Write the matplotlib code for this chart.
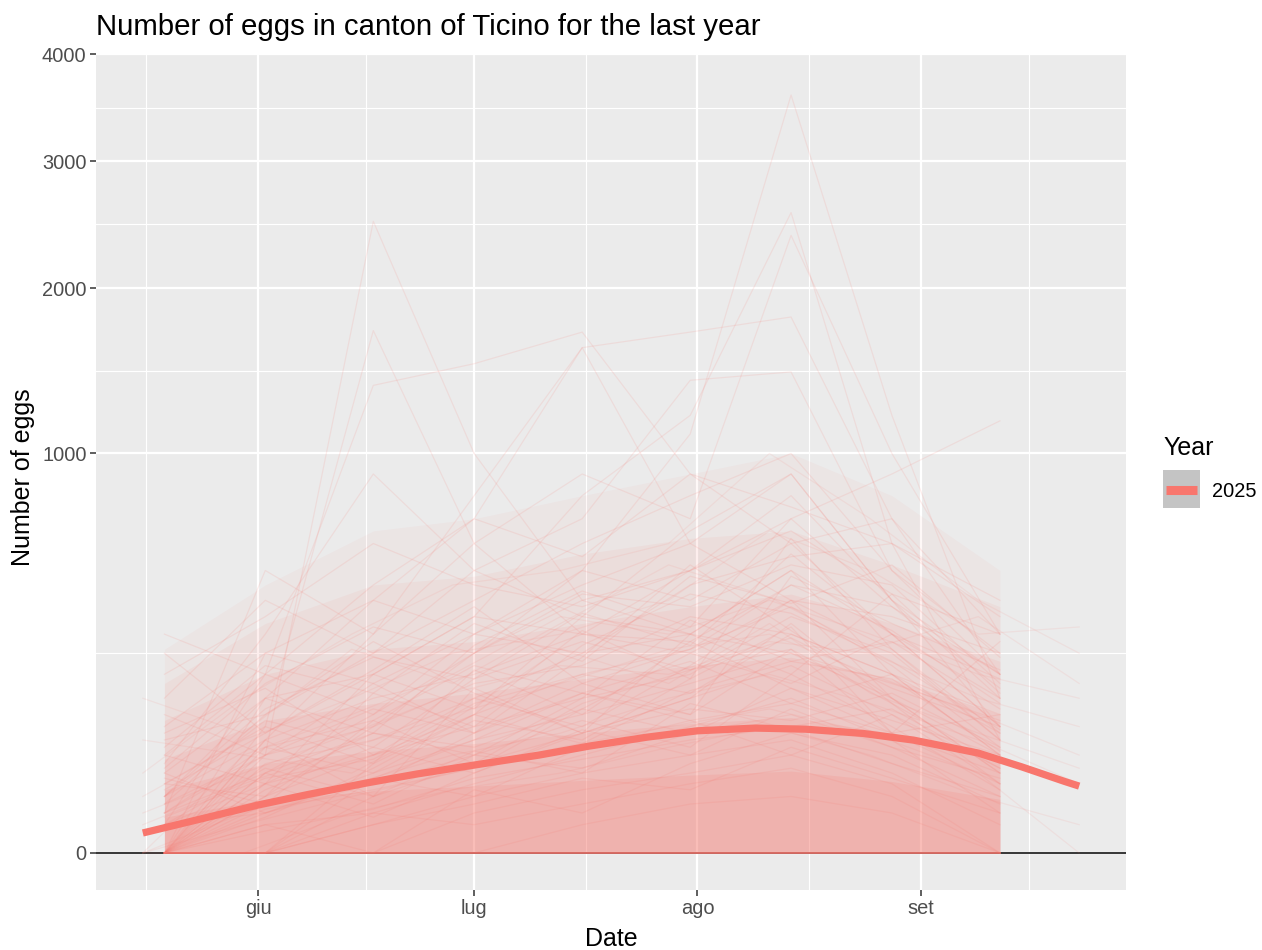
import numpy as np
import pandas as pd
import matplotlib
matplotlib.use("Agg")
import matplotlib.pyplot as plt
from matplotlib.patches import Rectangle
from matplotlib.lines import Line2D

plt.rcParams['font.family'] = ['Liberation Sans', 'DejaVu Sans']

# sampling dates of the traps (two rounds)
dates_a = pd.to_datetime(["2025-05-19", "2025-06-02", "2025-06-17", "2025-07-01", "2025-07-16",
                          "2025-07-31", "2025-08-14", "2025-08-28", "2025-09-12"])
dates_b = pd.to_datetime(["2025-05-16", "2025-05-30", "2025-06-14", "2025-06-28", "2025-07-13",
                          "2025-07-28", "2025-08-11", "2025-08-25", "2025-09-09", "2025-09-23"])

# eggs per trap, round A
traps_a = [
    [0, 40, 120, 300, 500, 1100, 3600, 1200, 150],
    [10, 60, 2500, 1000, 400, 300, 500, 200, 60],
    [5, 200, 1370, 1500, 1700, 900, 600, 300, 100],
    [20, 150, 400, 700, 1600, 1700, 1800, 700, 200],
    [0, 30, 200, 350, 800, 1200, 2570, 600, 80],
    [0, 80, 300, 600, 900, 700, 2390, 1000, 300],
    [30, 100, 1710, 600, 300, 250, 400, 150, 40],
    [0, 20, 100, 250, 400, 500, 700, 900, 1170],
    [50, 300, 900, 500, 700, 1400, 1450, 500, 200],
    [10, 500, 300, 800, 1600, 600, 900, 400, 100],
    [40, 150, 200, 350, 300, 500, 800, 400, 150],
    [0, 50, 80, 150, 250, 300, 500, 300, 100],
    [100, 250, 400, 300, 450, 600, 400, 350, 250],
    [5, 30, 60, 100, 150, 200, 350, 250, 80],
    [0, 10, 40, 80, 120, 180, 250, 150, 40],
    [20, 80, 150, 200, 300, 280, 450, 380, 200],
    [0, 0, 20, 50, 90, 150, 220, 120, 30],
    [60, 200, 120, 250, 500, 400, 600, 700, 300],
    [0, 5, 10, 30, 60, 100, 150, 80, 10],
    [15, 60, 100, 180, 220, 350, 300, 200, 120],
    [0, 15, 30, 60, 45, 90, 120, 70, 20],
    [200, 350, 600, 450, 380, 500, 650, 420, 300],
    [0, 0, 5, 20, 40, 60, 80, 40, 5],
    [10, 40, 90, 70, 130, 250, 180, 300, 150],
    [0, 100, 50, 120, 200, 160, 300, 200, 60],
    [30, 20, 60, 150, 100, 220, 400, 260, 90],
    [0, 0, 0, 10, 25, 40, 60, 30, 0],
    [80, 120, 250, 400, 600, 800, 1000, 500, 250],
    [0, 25, 70, 40, 90, 130, 110, 160, 70],
    [5, 10, 30, 90, 180, 120, 260, 140, 50],
    [0, 0, 10, 5, 15, 30, 45, 20, 0],
    [120, 60, 180, 300, 250, 450, 550, 600, 400],
    [0, 40, 15, 60, 110, 70, 200, 100, 25],
    [25, 90, 200, 130, 350, 300, 250, 180, 110],
    [0, 5, 0, 25, 10, 50, 90, 60, 15],
    [300, 200, 450, 700, 550, 900, 750, 600, 350],
    [0, 0, 35, 20, 70, 110, 140, 200, 90],
    [10, 70, 40, 110, 80, 190, 320, 90, 30],
    [0, 12, 25, 45, 130, 90, 170, 110, 60],
    [45, 180, 320, 250, 420, 380, 520, 450, 180],
    [0, 0, 0, 0, 5, 15, 20, 10, 0],
    [8, 35, 55, 140, 200, 260, 380, 220, 70],
    [0, 60, 130, 90, 160, 230, 140, 90, 40],
    [150, 400, 250, 500, 350, 650, 900, 400, 200],
    [0, 3, 12, 35, 55, 80, 100, 130, 45],
    [20, 110, 70, 190, 280, 210, 290, 170, 100],
    [0, 0, 5, 15, 35, 25, 70, 35, 10],
    [60, 30, 90, 60, 150, 340, 230, 280, 130],
    [0, 250, 180, 90, 240, 520, 310, 150, 60],
    [35, 15, 110, 220, 160, 120, 480, 330, 210],
    [0, 80, 20, 170, 90, 300, 200, 420, 160],
    [90, 170, 60, 120, 310, 190, 620, 260, 80],
    [0, 0, 50, 210, 120, 280, 170, 90, 120],
    [15, 120, 280, 160, 90, 150, 330, 140, 30],
    [0, 20, 160, 100, 270, 420, 360, 230, 95],
    [250, 90, 210, 380, 180, 260, 450, 310, 140],
    [5, 45, 20, 65, 40, 140, 95, 50, 20],
    [0, 150, 90, 270, 430, 320, 700, 380, 170],
    [40, 10, 35, 80, 160, 110, 60, 120, 45],
    [0, 70, 110, 50, 140, 210, 260, 90, 280],
    [70, 220, 160, 330, 230, 480, 390, 520, 240],
    [0, 8, 45, 120, 75, 165, 230, 190, 65],
    [20, 130, 240, 190, 360, 270, 560, 300, 190],
    [0, 30, 8, 40, 95, 60, 130, 70, 35],
]

# eggs per trap, round B
traps_b = [
    [20, 80, 150, 250, 300, 400, 650, 500, 300, 320],
    [5, 30, 70, 120, 180, 260, 300, 200, 120, 60],
    [0, 10, 30, 60, 90, 150, 200, 140, 80, 30],
    [40, 150, 300, 450, 500, 600, 1000, 700, 400, 250],
    [0, 0, 10, 25, 40, 70, 100, 60, 20, 5],
    [80, 60, 120, 200, 350, 300, 400, 300, 200, 150],
    [0, 5, 20, 40, 70, 100, 130, 90, 40, 0],
    [10, 40, 90, 160, 220, 200, 280, 250, 150, 100],
    [150, 90, 260, 180, 330, 520, 410, 260, 350, 180],
    [0, 60, 40, 110, 260, 180, 330, 160, 90, 45],
]

# spread of the bulk of traps at each round A date, from faint to dense
bulk_levels = [
    [260, 450, 650, 700, 800, 900, 1000, 800, 500],
    [180, 330, 450, 480, 560, 620, 650, 520, 380],
    [110, 200, 260, 280, 330, 380, 420, 330, 230],
    [55, 110, 140, 160, 190, 220, 240, 190, 120],
    [25, 50, 65, 75, 90, 105, 115, 90, 55],
    [8, 18, 24, 28, 33, 38, 42, 32, 18],
]
bulk_alpha = [0.05, 0.07, 0.09, 0.11, 0.13, 0.15]
zero_traps = [0, 0, 0, 0, 0, 0, 0, 0, 0]

# smoothed trend
smooth_dates = pd.to_datetime(["2025-05-16", "2025-05-24", "2025-06-01", "2025-06-08", "2025-06-16",
                               "2025-06-23", "2025-07-01", "2025-07-10", "2025-07-17", "2025-07-25",
                               "2025-08-01", "2025-08-09", "2025-08-16", "2025-08-24", "2025-08-31",
                               "2025-09-09", "2025-09-15", "2025-09-21", "2025-09-23"])
smooth_eggs = [2.5, 7.2, 14.4, 21.5, 30.6, 39, 48.4, 60, 71.6, 84,
               93.5, 97.7, 96, 89.5, 79.8, 62.5, 46.5, 32, 28]

month_ticks = pd.to_datetime(["2025-06-01", "2025-07-01", "2025-08-01", "2025-09-01"])
month_labels = ["giu", "lug", "ago", "set"]
month_minor = pd.to_datetime(["2025-05-16 12:00", "2025-06-16 00:00", "2025-07-16 12:00",
                              "2025-08-16 12:00", "2025-09-16 00:00"])
y_ticks = [0, 1000, 2000, 3000, 4000]
y_minor = [250, 1457, 2475, 3482]

col = "#F8766D"


def fwd(v):
    v = np.asarray(v, dtype=float)
    return np.sign(v) * np.sqrt(np.abs(v))


def inv(v):
    v = np.asarray(v, dtype=float)
    return np.sign(v) * v ** 2


W, H = 1262, 950
fig = plt.figure(figsize=(W / 100, H / 100), dpi=100)
ax = fig.add_axes([96 / W, (H - 890) / H, (1126 - 96) / W, (890 - 54) / H])
ax.set_facecolor("#EBEBEB")
for s in ax.spines.values():
    s.set_visible(False)

ax.set_yscale("function", functions=(fwd, inv))
ax.set_ylim(-8.6, 4000)
ax.set_xlim(pd.Timestamp("2025-05-09 12:00"), pd.Timestamp("2025-09-29 12:00"))

ax.set_xticks(month_ticks)
ax.set_xticklabels(month_labels)
ax.set_xticks(month_minor, minor=True)
ax.set_yticks(y_ticks)
ax.set_yticklabels([str(v) for v in y_ticks])
ax.set_yticks(y_minor, minor=True)
ax.yaxis.set_minor_formatter(plt.NullFormatter())
ax.xaxis.set_minor_formatter(plt.NullFormatter())

ax.grid(which="major", color="white", linewidth=1.6, zorder=0)
ax.grid(which="minor", color="white", linewidth=0.8, zorder=0)
ax.set_axisbelow(True)
ax.tick_params(which="major", length=4.3, width=1.1, color="#333333",
               labelsize=14.4, labelcolor="#4D4D4D", pad=2.5)
ax.tick_params(which="minor", length=0)

ax.axhline(0, color="black", linewidth=1.1, zorder=1)

# bulk of the traps
for lvl, a in zip(bulk_levels, bulk_alpha):
    ax.fill_between(dates_a, 0, lvl, color=col, alpha=a, linewidth=0, zorder=2)

for t in traps_a:
    ax.plot(dates_a, t, color=col, alpha=0.13, linewidth=0.9, zorder=3)
for t in traps_b:
    ax.plot(dates_b, t, color=col, alpha=0.10, linewidth=0.9, zorder=3)
ax.plot(dates_a, zero_traps, color=col, alpha=0.85, linewidth=1.2, zorder=3)

ax.plot(smooth_dates, smooth_eggs, color=col, linewidth=5.2, solid_capstyle="butt",
        solid_joinstyle="round", zorder=5)

# titles
fig.text(96 / W, 1 - 35 / H, "Number of eggs in canton of Ticino for the last year",
         fontsize=21.2, ha="left", va="baseline", color="black")
fig.text(611 / W, 1 - 946 / H, "Date", fontsize=18, ha="center", va="baseline")
fig.text(30 / W, 1 - 477 / H, "Number of eggs", fontsize=18, ha="center", va="baseline",
         rotation=90, rotation_mode="anchor")

# legend
fig.text(1163 / W, 1 - 455 / H, "Year", fontsize=18, ha="left", va="baseline")
fig.add_artist(Rectangle((1163 / W, 1 - 508 / H), 37 / W, 38 / H,
                         transform=fig.transFigure, facecolor="#C4C4C4", edgecolor="none"))
fig.add_artist(Line2D([1166 / W, 1197 / W], [1 - 490 / H, 1 - 490 / H],
                      transform=fig.transFigure, color=col, linewidth=6.5, solid_capstyle="butt"))
fig.text(1212 / W, 1 - 497 / H, "2025", fontsize=14.4, ha="left", va="baseline")

fig.savefig("out.png", dpi=100, facecolor="white")
